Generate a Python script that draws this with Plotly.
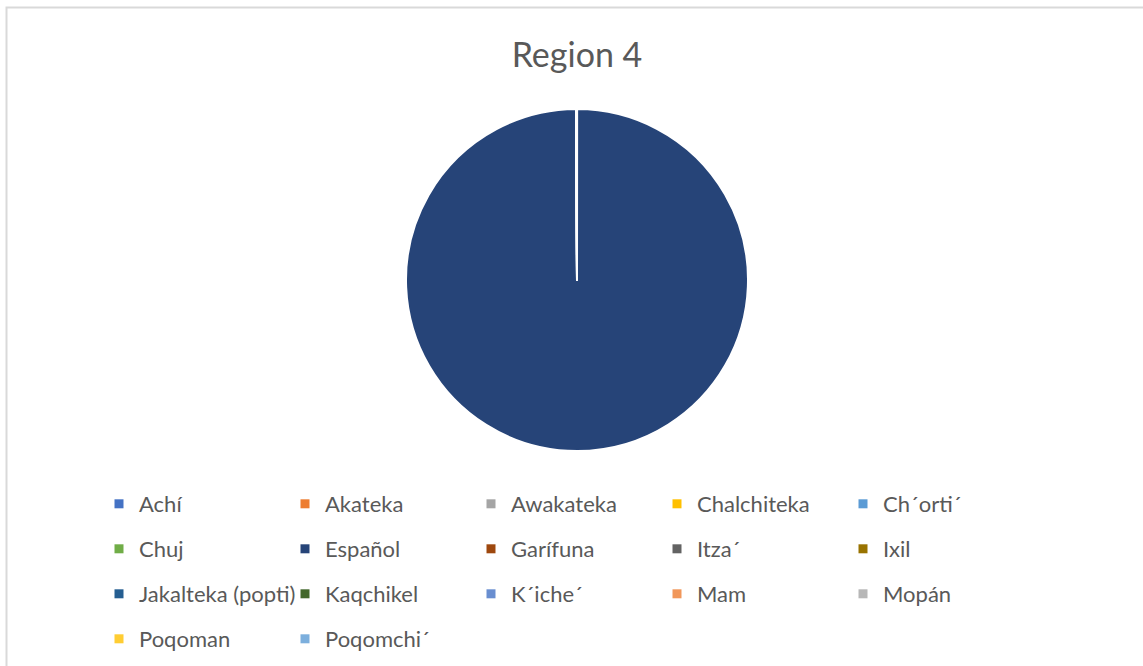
import plotly.graph_objects as go

languages = ["Achí", "Akateka", "Awakateka", "Chalchiteka", "Ch´orti´",
             "Chuj", "Español", "Garífuna", "Itza´", "Ixil",
             "Jakalteka (popti)", "Kaqchikel", "K´iche´", "Mam", "Mopán",
             "Poqoman", "Poqomchi´"]
speakers = [0, 0, 0, 0, 3,
            0, 25000, 4, 0, 0,
            0, 6, 5, 2, 0,
            3, 2]
colors = ["#4472C4", "#ED7D31", "#A5A5A5", "#FFC000", "#5B9BD5",
          "#70AD47", "#264478", "#9E480E", "#636363", "#997300",
          "#255E91", "#43682B", "#698ED0", "#F1975A", "#B7B7B7",
          "#FFCD33", "#7CAFDD"]
title_text = "Region 4"

W, H = 1143, 666
cx, cy, r = 577, 280, 171

fig = go.Figure()
fig.add_trace(go.Pie(
    labels=languages, values=speakers, sort=False, direction="clockwise",
    rotation=0, textinfo="none", showlegend=False,
    marker=dict(colors=colors, line=dict(color="white", width=2)),
    domain=dict(x=[(cx - r) / W, (cx + r) / W], y=[1 - (cy + r) / H, 1 - (cy - r) / H]),
))

legend_names = ["legend", "legend2", "legend3", "legend4"]
row_y = [504, 549, 594, 639]
for i, (lang, col) in enumerate(zip(languages, colors)):
    row = i // 5
    fig.add_trace(go.Scatter(
        x=[None], y=[None], mode="markers", name=lang,
        marker=dict(symbol="square", size=9, color=col),
        legend=legend_names[row], showlegend=True,
    ))

leg_common = dict(orientation="h", entrywidth=141, entrywidthmode="pixels",
                  font=dict(family="Lato, Open Sans, sans-serif", size=22, color="#595959"),
                  bgcolor="rgba(0,0,0,0)", xanchor="left", yanchor="middle", x=99 / W,
                  itemclick=False, itemdoubleclick=False)
layout_legends = {}
for name, yy in zip(legend_names, row_y):
    layout_legends[name] = dict(leg_common, y=1 - yy / H)

fig.update_layout(
    width=W, height=H,
    margin=dict(l=0, r=0, t=0, b=0),
    paper_bgcolor="white", plot_bgcolor="white",
    xaxis=dict(visible=False), yaxis=dict(visible=False),
    title=dict(text=title_text, x=cx / W, xanchor="center", y=1 - 55 / H, yanchor="middle",
               font=dict(family="Lato, Open Sans, sans-serif", size=34, color="#595959")),
    shapes=[dict(type="rect", xref="paper", yref="paper", x0=6.5 / W, x1=1.05,
                 y0=-0.05, y1=1 - 7.5 / H, line=dict(color="#D9D9D9", width=2))],
    **layout_legends,
)

fig.write_html("out.html", config={"displayModeBar": False},
               post_script="document.body.style.margin='0px';")
